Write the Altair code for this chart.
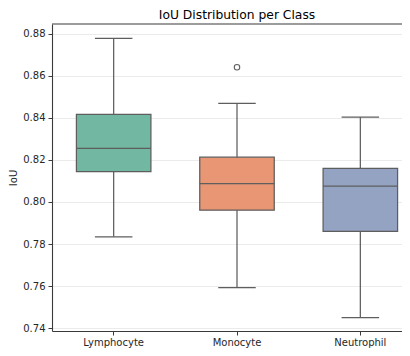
import altair as alt
import pandas as pd

classes = ["Lymphocyte", "Monocyte", "Neutrophil"]
whisker_low = [0.7834, 0.7592, 0.7450]
q1 = [0.8144, 0.7961, 0.7860]
median = [0.8255, 0.8087, 0.8075]
q3 = [0.8417, 0.8213, 0.8160]
whisker_high = [0.8778, 0.8469, 0.8404]
box_colors = ["#71b7a1", "#e99675", "#95a3c3"]

outlier_class = ["Monocyte"]
outlier_value = [0.8641]

y_ticks = [0.74, 0.76, 0.78, 0.80, 0.82, 0.84, 0.86, 0.88]

df = pd.DataFrame({
    "cls": classes, "lo": whisker_low, "q1": q1, "med": median,
    "q3": q3, "hi": whisker_high,
})
out_df = pd.DataFrame({"cls": outlier_class, "v": outlier_value})

LINE = "#5e5e5e"
SPINE = "#3a3a3a"
LW = 1.25
FULL_W = 370  # full band range; the right part runs past the window edge

x_enc = alt.X("cls:N", sort=classes, title=None,
              scale=alt.Scale(paddingInner=0, paddingOuter=0, range=[0, FULL_W]),
              axis=alt.Axis(labelAngle=0, grid=False, tickSize=4,
                            labelPadding=2, domain=True))
y_scale = alt.Scale(domain=[0.7386, 0.8847], nice=False, zero=False)
y_axis = alt.Axis(values=y_ticks, format=".2f", tickSize=4, labelPadding=3,
                  grid=True, gridColor="#ebebeb", gridWidth=1, domain=True,
                  titlePadding=4)

base = alt.Chart(df)

whisk = base.mark_rule(color=LINE, strokeWidth=LW).encode(
    x=x_enc, y=alt.Y("lo:Q", scale=y_scale, axis=y_axis, title="IoU"), y2="hi:Q")

box = base.mark_bar(size=74.5, stroke=LINE, strokeWidth=LW, opacity=1).encode(
    x=x_enc, y=alt.Y("q1:Q", scale=y_scale), y2="q3:Q",
    color=alt.Color("cls:N", scale=alt.Scale(domain=classes, range=box_colors),
                    legend=None))

med = base.mark_tick(size=74.5, thickness=LW, color=LINE, opacity=1).encode(
    x=x_enc, y=alt.Y("med:Q", scale=y_scale))
cap_lo = base.mark_tick(size=37.5, thickness=LW, color=LINE, opacity=1).encode(
    x=x_enc, y=alt.Y("lo:Q", scale=y_scale))
cap_hi = base.mark_tick(size=37.5, thickness=LW, color=LINE, opacity=1).encode(
    x=x_enc, y=alt.Y("hi:Q", scale=y_scale))

outl = alt.Chart(out_df).mark_point(shape="circle", size=30, filled=False,
                                    color=LINE, strokeWidth=1.1, opacity=1).encode(
    x=x_enc, y=alt.Y("v:Q", scale=y_scale))

top_spine = alt.Chart(pd.DataFrame({"a": [0]})).mark_rule(
    color=SPINE, strokeWidth=1.1).encode(
    x=alt.value(0), x2=alt.value(FULL_W), y=alt.value(0), y2=alt.value(0))

chart = alt.layer(whisk, box, med, cap_lo, cap_hi, outl, top_spine).properties(
    width=350, height=307,
    title=alt.TitleParams("IoU Distribution per Class", fontSize=12.3,
                          font="DejaVu Sans", fontWeight="normal",
                          color="#000000", offset=2, dx=10),
    autosize=alt.AutoSizeParams(type="none"),
    padding={"left": 44, "top": 16, "right": 0, "bottom": 17},
).configure_view(stroke=None).configure_axis(
    labelFont="DejaVu Sans", titleFont="DejaVu Sans", labelFontSize=10,
    titleFontSize=10, labelColor="#262626", titleColor="#262626",
    titleFontWeight="normal", tickColor=SPINE, domainColor=SPINE,
    domainWidth=1.1,
)

chart.save("out.html", embed_options={"renderer": "svg", "actions": False})
